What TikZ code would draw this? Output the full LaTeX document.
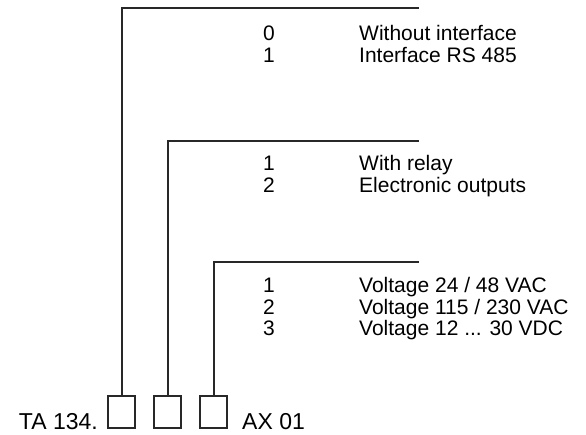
\documentclass[tikz,border=0pt]{standalone}
\usepackage{fontspec}
\setmainfont{Liberation Sans}
\usepackage{xcolor}
\definecolor{lineg}{RGB}{40,40,40}
\usetikzlibrary{positioning}
\tikzset{
  selbox/.style={draw=lineg,line width=2pt,minimum width=27pt,minimum height=32pt,inner sep=0pt},
  lead/.style={draw=lineg,line width=2pt},
  code/.style={anchor=base west,inner sep=0pt,font=\fontsize{21}{21.5}\selectfont},
  part/.style={inner sep=0pt,font=\fontsize{23}{24}\selectfont}
}

\begin{document}
\begin{tikzpicture}[x=1pt,y=-1pt]
  \useasboundingbox (0,0) rectangle (586,435);
  % order code boxes
  \node[selbox] (sel1) at (121.5,412) {};
  \node[selbox] (sel2) at (167.5,412) {};
  \node[selbox] (sel3) at (213.5,412) {};
  \node[part,anchor=base east] (pre) at (98,429) {TA 134.};
  \node[part,anchor=base west] (post) at (242,429) {AX 01};
  % lead lines
  \coordinate (end1) at (419,8);
  \coordinate (end2) at (419,141);
  \coordinate (end3) at (419,262);
  \draw[lead] (sel1.north) |- (end1);
  \draw[lead] (sel2.north) |- (end2);
  \draw[lead] (sel3.north) |- (end3);
  % interface
  \node[code] (n10) at (263,41) {0};
  \node[code] (t10) at (359,41) {Without interface};
  \node[code] (n11) at (263,62.5) {1};
  \node[code] (t11) at (359,62.5) {Interface RS 485};
  % outputs
  \node[code] (n21) at (263,171) {1};
  \node[code] (t21) at (359,171) {With relay};
  \node[code] (n22) at (263,193) {2};
  \node[code] (t22) at (359,193) {Electronic outputs};
  % supply voltage
  \node[code] (n31) at (263,293) {1};
  \node[code] (t31) at (359,293) {Voltage 24 / 48 VAC};
  \node[code] (n32) at (263,314.5) {2};
  \node[code] (t32) at (359,314.5) {Voltage 115 / 230 VAC};
  \node[code] (n33) at (263,336) {3};
  \node[code] (t33) at (359,336) {Voltage 12 ... 30 VDC};
\end{tikzpicture}
\end{document}
